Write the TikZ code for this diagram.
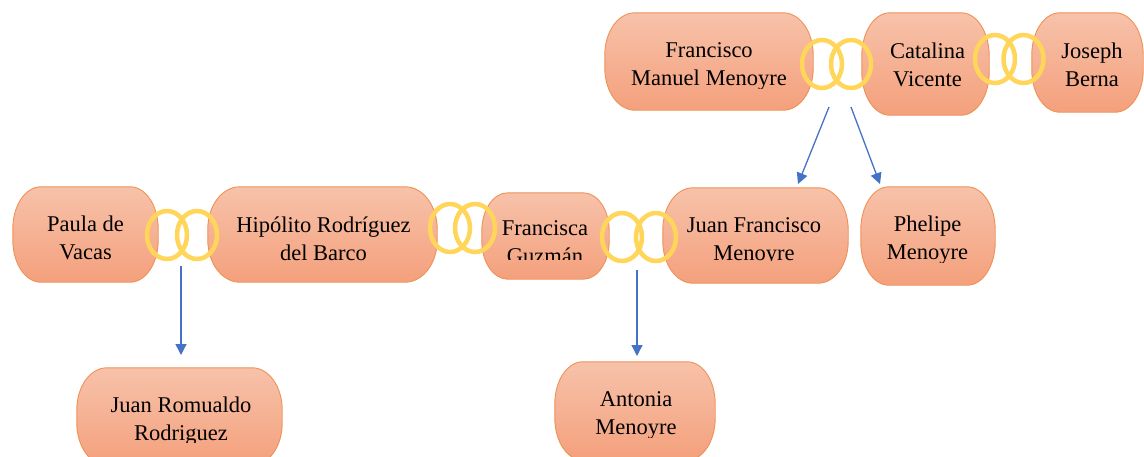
\documentclass[tikz,border=0pt]{standalone}
\usepackage{fontspec}
\setmainfont{Liberation Serif}
\usetikzlibrary{arrows.meta,shapes.geometric}
\definecolor{ntop}{HTML}{F7C2AA}
\definecolor{nbot}{HTML}{F4A07C}
\definecolor{nborder}{HTML}{EF9155}
\definecolor{ringc}{HTML}{FFD55A}
\definecolor{arrowc}{HTML}{4472C4}
% draws the rounded outline of a person node with elliptical corners
\newcommand\pillshape[3]{%
  \path[pillfill]
    ([xshift=#2]#1.north west) -- ([xshift=-#2]#1.north east)
    arc[start angle=90,end angle=0,x radius=#2,y radius=#3]
    -- ([yshift=#3]#1.south east)
    arc[start angle=0,end angle=-90,x radius=#2,y radius=#3]
    -- ([xshift=#2]#1.south west)
    arc[start angle=270,end angle=180,x radius=#2,y radius=#3]
    -- ([yshift=-#3]#1.north west)
    arc[start angle=180,end angle=90,x radius=#2,y radius=#3]
    -- cycle;}
\begin{document}
\begin{tikzpicture}[x=1pt,y=-1pt,
  person/.style={inner sep=0pt},
  pillfill/.style={draw=nborder,line width=0.9pt,top color=ntop,bottom color=nbot},
  pname/.style={font=\fontsize{22.5}{28}\selectfont,align=center,inner sep=0pt,text=black},
  ring/.style={ellipse,draw=ringc,line width=4.5pt,minimum width=40pt,minimum height=48pt,inner sep=0pt},
  link/.style={draw=arrowc,line width=1.3pt,-{Triangle[width=11pt,length=11pt]}}]
\useasboundingbox (0,0) rectangle (1144,456);
\clip (0,0) rectangle (1144,456);

% person nodes (frames)
\node[person,minimum width=208pt,minimum height=97pt] (fmm) at (709,61.5) {};
\node[person,minimum width=127pt,minimum height=102pt] (cv) at (925.5,64) {};
\node[person,minimum width=111pt,minimum height=99pt] (jb) at (1087.5,62.5) {};
\node[person,minimum width=145pt,minimum height=95pt] (pv) at (85.5,234.5) {};
\node[person,minimum width=229pt,minimum height=95pt] (hrb) at (322.5,234.5) {};
\node[person,minimum width=127pt,minimum height=86pt] (fg) at (545.5,236) {};
\node[person,minimum width=185pt,minimum height=95pt] (jfm) at (755.5,235.5) {};
\node[person,minimum width=134pt,minimum height=98pt] (pm) at (928,236) {};
\node[person,minimum width=205pt,minimum height=97pt] (jrr) at (179.5,416.5) {};
\node[person,minimum width=160pt,minimum height=98pt] (am) at (635,411) {};
\pillshape{fmm}{30pt}{42pt}
\pillshape{cv}{28pt}{43pt}
\pillshape{jb}{28pt}{42pt}
\pillshape{pv}{28pt}{42pt}
\pillshape{hrb}{32pt}{42pt}
\pillshape{fg}{26pt}{38pt}
\pillshape{jfm}{30pt}{42pt}
\pillshape{pm}{28pt}{43pt}
\pillshape{jrr}{30pt}{42pt}
\pillshape{am}{28pt}{42pt}

% names
\begin{scope}
\clip (600,0) rectangle (820,88);
\node[pname] (tfmm) at (709,65.4) {\strut Francisco\\Manuel Menoyre\strut};
\end{scope}
\node[pname] (tcv) at (927.5,66.7) {\strut Catalina\\Vicente\strut};
\node[pname] (tjb) at (1092,66.4) {\strut Joseph\\Berna\strut};
\node[pname] (tpv) at (85.5,240.1) {\strut Paula de\\Vacas\strut};
\node[pname] (thrb) at (323.5,240.4) {\strut Hipólito Rodríguez\\del Barco\strut};
\begin{scope}
\clip (480,180) rectangle (612,259);
\node[pname] (tfg) at (545,243.4) {\strut Francisca\\Guzmán\strut};
\end{scope}
\begin{scope}
\clip (660,180) rectangle (850,260);
\node[pname] (tjfm) at (754,240.4) {\strut Juan Francisco\\Menoyre\strut};
\end{scope}
\begin{scope}
\clip (858,180) rectangle (998,262);
\node[pname] (tpm) at (927.5,240.1) {\strut Phelipe\\Menoyre\strut};
\end{scope}
\begin{scope}
\clip (70,360) rectangle (290,442);
\node[pname] (tjrr) at (181,420.4) {\strut Juan Romualdo\\Rodriguez\strut};
\end{scope}
\begin{scope}
\clip (550,355) rectangle (720,437);
\node[pname] (tam) at (636,414.4) {\strut Antonia\\Menoyre\strut};
\end{scope}

% rings
\node[ring] (r1a) at (822,64) {};
\node[ring] (r1b) at (851,64) {};
\node[ring] (r2a) at (995,59) {};
\node[ring] (r2b) at (1023.5,59) {};
\node[ring] (r5a) at (167,235) {};
\node[ring] (r5b) at (197,235) {};
\node[ring] (r3a) at (450,228) {};
\node[ring] (r3b) at (475,228) {};
\node[ring] (r4a) at (622,237) {};
\node[ring] (r4b) at (656,237) {};

% arrows
\coordinate (a1s) at (829,107);
\coordinate (a1e) at (798,184);
\coordinate (a2s) at (851,107);
\coordinate (a2e) at (880,184);
\coordinate (a3s) at (181,266);
\coordinate (a3e) at (181,355);
\coordinate (a4s) at (637,270);
\coordinate (a4e) at (637,356);
\draw[link] (a1s) -- (a1e);
\draw[link] (a2s) -- (a2e);
\draw[link] (a3s) -- (a3e);
\draw[link] (a4s) -- (a4e);
\end{tikzpicture}
\end{document}
